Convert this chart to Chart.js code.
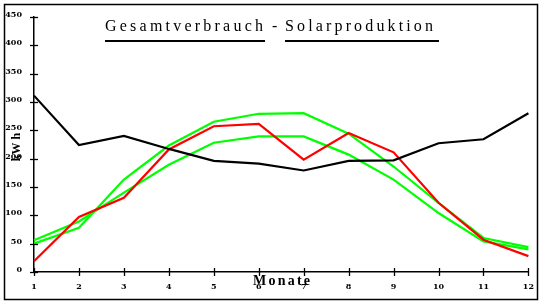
<!DOCTYPE html>
<html>
<head>
<meta charset="utf-8">
<script src="https://cdn.jsdelivr.net/npm/chart.js@4.4.1/dist/chart.umd.min.js"></script>
<style>
    html, body { margin: 0; padding: 0; background: #fff; }
    #chartBox { width: 544px; height: 305px; }
</style>
</head>
<body>
<div id="chartBox"><canvas id="graficaEnergie" width="544" height="305"></canvas></div>
<script>
// Daten (kWh pro Monat)
const monate = ['1', '2', '3', '4', '5', '6', '7', '8', '9', '10', '11', '12'];
const gesamtverbrauch = [311, 224, 240, 217, 196, 191, 179, 196, 197, 227, 234, 280];
const solarproduktion = [19, 97, 131, 216, 257, 261, 198, 245, 211, 122, 57, 28];
const solarKurveA = [50, 78, 163, 223, 265, 279, 280, 244, 186, 122, 60, 44];
const solarKurveB = [56, 89, 140, 189, 228, 239, 239, 207, 163, 104, 54, 40];
const yTicks = [0, 50, 100, 150, 200, 250, 300, 350, 400, 450];

const serif = "'Liberation Serif', 'DejaVu Serif', serif";

// Text mit Sperrung zwischen x0 und x1 verteilen
function gesperrt(ctx, text, x0, x1, baseline) {
    const chars = [...text];
    const widths = chars.map(c => ctx.measureText(c).width);
    const total = widths.reduce((a, b) => a + b, 0);
    const gap = (x1 - x0 - total) / (chars.length - 1);
    let x = x0;
    chars.forEach((c, i) => {
        ctx.fillText(c, x, baseline);
        x += widths[i] + gap;
    });
}

const rahmen = {
    id: 'rahmen',
    beforeDraw(chart) {
        const ctx = chart.ctx;
        ctx.save();
        ctx.strokeStyle = '#000';
        ctx.lineWidth = 1.5;
        ctx.strokeRect(4.5, 4.5, 533, 295);
        ctx.restore();
    }
};

const beschriftung = {
    id: 'beschriftung',
    afterDraw(chart) {
        const ctx = chart.ctx;
        const { x, y } = chart.scales;
        ctx.save();
        ctx.strokeStyle = '#000';
        ctx.fillStyle = '#000';
        ctx.lineWidth = 1.3;

        // Teilstriche quer über die Achsen
        y.ticks.forEach((t, i) => {
            const py = Math.round(y.getPixelForTick(i)) + 0.5;
            ctx.beginPath();
            ctx.moveTo(x.left - 4, py);
            ctx.lineTo(x.left + 4, py);
            ctx.stroke();
        });
        x.ticks.forEach((t, i) => {
            const px = Math.round(x.getPixelForTick(i)) + 0.5;
            ctx.beginPath();
            ctx.moveTo(px, y.bottom - 4);
            ctx.lineTo(px, y.bottom + 4);
            ctx.stroke();
        });

        // Titel
        ctx.font = '16px ' + serif;
        ctx.textAlign = 'left';
        ctx.textBaseline = 'alphabetic';
        gesperrt(ctx, 'Gesamtverbrauch', 105, 263, 31);
        ctx.fillText('-', 272, 31);
        gesperrt(ctx, 'Solarproduktion', 285, 433, 31);
        ctx.lineWidth = 2;
        ctx.beginPath();
        ctx.moveTo(105, 41); ctx.lineTo(265, 41);
        ctx.moveTo(285, 41); ctx.lineTo(439, 41);
        ctx.stroke();

        // Achsentitel
        ctx.font = 'bold 14px ' + serif;
        gesperrt(ctx, 'Monate', 253, 310, 285);

        ctx.translate(17, 147);
        ctx.rotate(-Math.PI / 2);
        ctx.font = 'bold 12px ' + serif;
        ctx.textAlign = 'center';
        ctx.textBaseline = 'middle';
        ctx.fillText('kW h', 0, 0);
        ctx.restore();
    }
};

const tickFont = { family: "'DejaVu Serif', serif", size: 8, weight: 'bold' };

new Chart(document.getElementById('graficaEnergie'), {
    type: 'line',
    data: {
        labels: monate,
        datasets: [
            { label: 'Gesamtverbrauch', data: gesamtverbrauch, borderColor: '#000000' },
            { label: 'Solarproduktion', data: solarproduktion, borderColor: '#ff0000' },
            { label: 'Solar A', data: solarKurveA, borderColor: '#00ff00' },
            { label: 'Solar B', data: solarKurveB, borderColor: '#00ff00' }
        ]
    },
    options: {
        responsive: false,
        animation: false,
        devicePixelRatio: 1,
        layout: { padding: { top: 16.5, right: 13, left: 0, bottom: 0 } },
        plugins: {
            legend: { display: false },
            tooltip: { enabled: false },
            title: { display: false }
        },
        elements: {
            point: { radius: 0 },
            line: { tension: 0, borderWidth: 2.2, fill: false }
        },
        scales: {
            x: {
                grid: { display: false, drawTicks: false },
                border: { display: true, color: '#000', width: 1.5 },
                ticks: { color: '#000', font: tickFont, padding: 10, maxRotation: 0, autoSkip: false },
                afterFit: s => { s.height = 33; }
            },
            y: {
                min: 0,
                max: 450,
                afterBuildTicks: s => { s.ticks = yTicks.map(v => ({ value: v })); },
                grid: { display: false, drawTicks: false },
                border: { display: true, color: '#000', width: 1.5 },
                ticks: { color: '#000', font: tickFont, padding: 12, labelOffset: -2 },
                afterFit: s => { s.width = 34; }
            }
        }
    },
    plugins: [rahmen, beschriftung]
});
</script>
</body>
</html>
